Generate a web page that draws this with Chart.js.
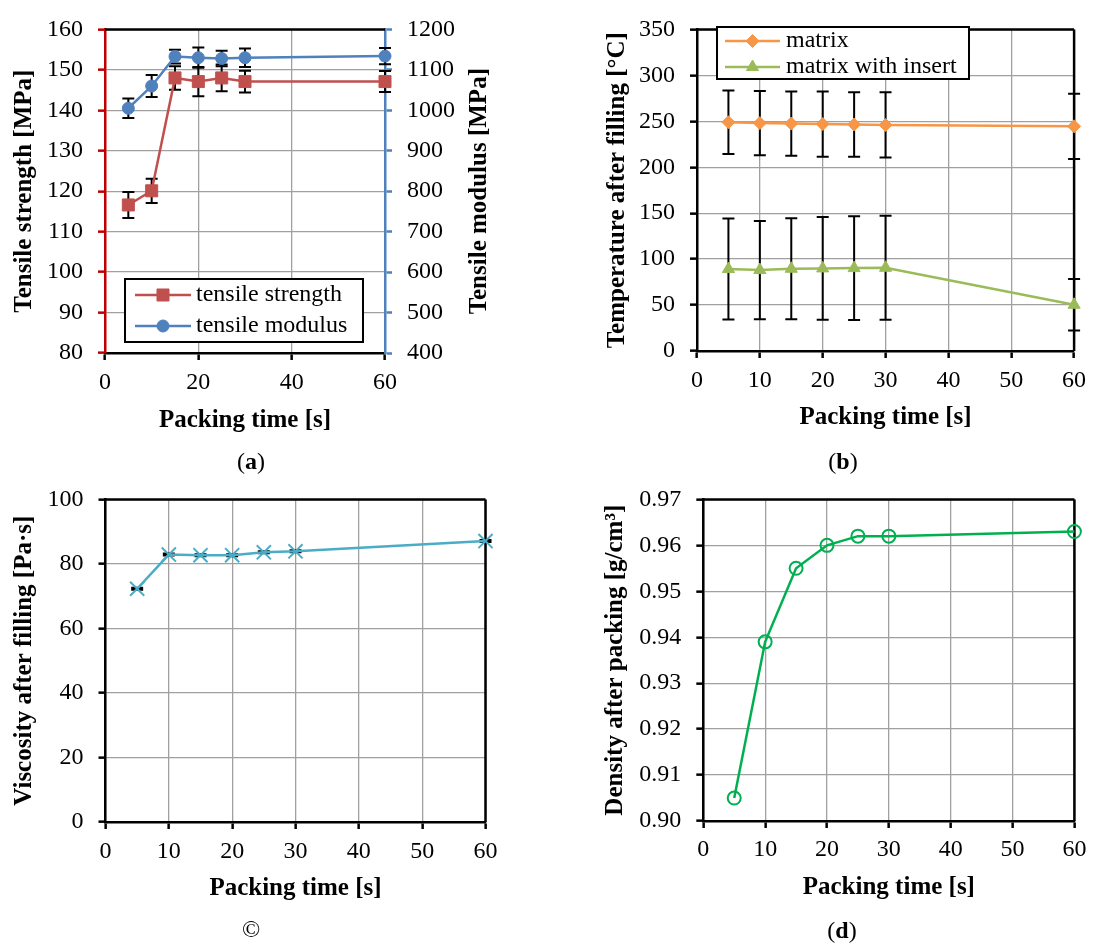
<!DOCTYPE html>
<html>
<head>
<meta charset="utf-8">
<script src="https://cdn.jsdelivr.net/npm/chart.js"></script>
<style>
  body { margin:0; background:#fff; }
  #wrap { position:relative; width:1094px; height:944px; }
  canvas { position:absolute; }
  .cap { position:absolute; transform:translate(-50%,-50%); font:24px 'Liberation Serif','Times New Roman',serif; color:#000; white-space:nowrap; }
</style>
</head>
<body>
<div id="wrap">
  <canvas id="chartA" width="520" height="445" style="left:0;top:0"></canvas>
  <canvas id="chartB" width="554" height="445" style="left:540px;top:0"></canvas>
  <canvas id="chartC" width="540" height="474" style="left:0;top:470px"></canvas>
  <canvas id="chartD" width="554" height="474" style="left:540px;top:470px"></canvas>
  <div class="cap" style="left:251px;top:461px">(<b>a</b>)</div>
  <div class="cap" style="left:843px;top:461px">(<b>b</b>)</div>
  <div class="cap" style="left:251px;top:929px">©</div>
  <div class="cap" style="left:842px;top:930px">(<b>d</b>)</div>
</div>
<script>
/* ---------- data ---------- */
const packingTime = [5, 10, 15, 20, 25, 30, 60];

const tensileStrength    = [116.6, 120.1, 148, 147.1, 148, 147.1, 147.1];
const tensileStrengthErr = [3.2, 3, 2.9, 3.6, 3.3, 2.7, 2.6];
const tensileModulus     = [1005, 1060, 1133, 1130, 1128, 1130, 1134];
const tensileModulusErr  = [24, 27, 17, 25, 19, 23, 20];

const tempMatrix       = [249, 248, 247.5, 247, 246.5, 246, 244.5];
const tempMatrixErr    = [34.5, 35, 35, 35.5, 35, 35.5, 35.5];
const tempInsert       = [89.2, 88.1, 89.5, 89.9, 90.2, 90.6, 50.3];
const tempInsertErr    = [55, 53.5, 55, 56, 56.5, 56.5, 28];

const viscosity    = [72.3, 82.9, 82.7, 82.7, 83.6, 83.9, 87.1];
const viscosityErr = [0.3, 0.3, 0.3, 0.3, 0.3, 0.3, 0.3];

const density = [0.905, 0.939, 0.955, 0.960, 0.962, 0.962, 0.963];

/* ---------- shared styling ---------- */
const FONT = "'Liberation Serif', 'Times New Roman', serif";
const tickFont  = { family: FONT, size: 24 };
const titleFont = { family: FONT, size: 25, weight: 'bold' };
const GRID = '#a0a0a0';

const pts = (vals) => packingTime.map((t, i) => ({ x: t, y: vals[i] }));

// black frame on the sides of the plot area that have no axis
const framePlugin = {
  id: 'frame',
  beforeDatasetsDraw(chart, args, o) {
    const a = chart.chartArea, ctx = chart.ctx;
    ctx.save();
    ctx.strokeStyle = '#000';
    ctx.lineWidth = 2.5;
    ctx.beginPath();
    if (o.top)   { ctx.moveTo(a.left, a.top); ctx.lineTo(a.right, a.top); }
    if (o.right) { ctx.moveTo(a.right, a.top); ctx.lineTo(a.right, a.bottom); }
    ctx.stroke();
    ctx.restore();
  }
};

// vertical error bars with caps, drawn under the markers
const errorBarPlugin = {
  id: 'errorBars',
  beforeDatasetsDraw(chart) {
    const ctx = chart.ctx;
    chart.data.datasets.forEach(ds => {
      if (!ds.errors) return;
      const xs = chart.scales.x, ys = chart.scales[ds.yAxisID || 'y'];
      ctx.save();
      ctx.strokeStyle = '#000';
      ctx.lineWidth = 2;
      ds.data.forEach((p, i) => {
        const e = ds.errors[i];
        const px = xs.getPixelForValue(p.x);
        const top = ys.getPixelForValue(p.y + e), bot = ys.getPixelForValue(p.y - e);
        ctx.beginPath();
        ctx.moveTo(px, top); ctx.lineTo(px, bot);
        ctx.moveTo(px - 6, top); ctx.lineTo(px + 6, top);
        ctx.moveTo(px - 6, bot); ctx.lineTo(px + 6, bot);
        ctx.stroke();
      });
      ctx.restore();
    });
  }
};

// boxed legend sitting inside the plot area, like the spreadsheet original
const boxLegendPlugin = {
  id: 'boxLegend',
  afterDraw(chart, args, o) {
    if (!o.display) return;
    const ctx = chart.ctx;
    ctx.save();
    ctx.fillStyle = '#fff';
    ctx.fillRect(o.left, o.top, o.width, o.height);
    ctx.strokeStyle = '#000';
    ctx.lineWidth = 2;
    ctx.strokeRect(o.left, o.top, o.width, o.height);
    ctx.font = `24px ${FONT}`;
    ctx.textBaseline = 'middle';
    chart.data.datasets.forEach((ds, i) => {
      const y = o.rows[i];
      ctx.strokeStyle = ds.borderColor;
      ctx.lineWidth = ds.borderWidth;
      ctx.beginPath();
      ctx.moveTo(o.lineFrom, y); ctx.lineTo(o.lineTo, y);
      ctx.stroke();
      ctx.fillStyle = ds.pointBackgroundColor;
      ctx.strokeStyle = ds.pointBorderColor;
      ctx.lineWidth = ds.pointBorderWidth;
      Chart.helpers.drawPoint(ctx, { pointStyle: ds.pointStyle, radius: ds.pointRadius, borderWidth: ds.pointBorderWidth, rotation: 0 }, (o.lineFrom + o.lineTo) / 2, y);
      ctx.fillStyle = '#000';
      ctx.fillText(ds.label, o.textX, y);
    });
    ctx.restore();
  }
};

// right-hand axis title reads bottom-to-top in the original
const rightTitlePlugin = {
  id: 'rightTitle',
  afterDraw(chart, args, o) {
    if (!o.text) return;
    const ctx = chart.ctx, a = chart.chartArea;
    ctx.save();
    ctx.translate(o.x, (a.top + a.bottom) / 2);
    ctx.rotate(-Math.PI / 2);
    ctx.font = `bold 25px ${FONT}`;
    ctx.fillStyle = '#000';
    ctx.textAlign = 'center';
    ctx.textBaseline = 'middle';
    ctx.fillText(o.text, 0, 0);
    ctx.restore();
  }
};

function xAxis(step, tickPad, height, titlePad) {
  return {
    type: 'linear', position: 'bottom', min: 0, max: 60,
    ticks: { stepSize: step, font: tickFont, color: '#000', padding: tickPad, maxRotation: 0, autoSkip: false },
    grid: { color: GRID, lineWidth: 1.3, tickLength: 7, tickColor: '#000', tickWidth: 2.5, z: -1 },
    border: { color: '#000', width: 2.5 },
    title: { display: true, text: 'Packing time [s]', font: titleFont, color: '#000', padding: { top: 0, bottom: titlePad } },
    afterFit: s => { s.height = height; }
  };
}

function yAxis(min, max, step, width, title, titlePad, color, extra) {
  return Object.assign({
    type: 'linear', position: 'left', min: min, max: max,
    ticks: { stepSize: step, font: tickFont, color: '#000', padding: 15, autoSkip: false, callback: v => String(v) },
    grid: { color: GRID, lineWidth: 1.3, tickLength: 7, tickColor: color, tickWidth: 2.5, z: -1 },
    border: { color: color, width: 2.5 },
    title: { display: !!title, text: title, font: titleFont, color: '#000', padding: { top: titlePad, bottom: 0 } },
    afterFit: s => { s.width = width; }
  }, extra || {});
}

const basePlugins = (extra) => Object.assign({
  legend: { display: false },
  tooltip: { enabled: false },
  frame: { top: true, right: true },
  boxLegend: { display: false },
  rightTitle: {}
}, extra);

const plugins = [framePlugin, errorBarPlugin, boxLegendPlugin, rightTitlePlugin];

/* ---------- (a) tensile strength / modulus ---------- */
new Chart(document.getElementById('chartA'), {
  type: 'line',
  data: {
    datasets: [{
      label: 'tensile strength',
      data: pts(tensileStrength), errors: tensileStrengthErr, yAxisID: 'y',
      borderColor: '#C0504D', borderWidth: 2.5,
      pointStyle: 'rect', pointRadius: 8.5,
      pointBackgroundColor: '#C0504D', pointBorderColor: '#C0504D', pointBorderWidth: 1,
      clip: false
    }, {
      label: 'tensile modulus',
      data: pts(tensileModulus), errors: tensileModulusErr, yAxisID: 'yR',
      borderColor: '#4F81BD', borderWidth: 2.5,
      pointStyle: 'circle', pointRadius: 6,
      pointBackgroundColor: '#4F81BD', pointBorderColor: '#4F81BD', pointBorderWidth: 1,
      clip: false
    }]
  },
  options: {
    responsive: false, animation: false,
    layout: { padding: { top: 23, right: 0, bottom: 0, left: 0 } },
    scales: {
      x: xAxis(20, 8.6, 92, 9.3),
      y: yAxis(80, 160, 10, 105, 'Tensile strength [MPa]', 10, '#C00000'),
      yR: yAxis(400, 1200, 100, 135, '', 0, '#4F81BD', { position: 'right', grid: { drawOnChartArea: false, tickLength: 7, tickColor: '#4F81BD', tickWidth: 2.5, z: -1 } })
    },
    plugins: basePlugins({
      frame: { top: true, right: false },
      boxLegend: { display: true, left: 125, top: 279, width: 238, height: 63, rows: [295, 326], lineFrom: 135, lineTo: 191, textX: 196 },
      rightTitle: { text: 'Tensile modulus [MPa]', x: 480 }
    })
  },
  plugins: plugins
});

/* ---------- (b) temperature after filling ---------- */
new Chart(document.getElementById('chartB'), {
  type: 'line',
  data: {
    datasets: [{
      label: 'matrix',
      data: pts(tempMatrix), errors: tempMatrixErr,
      borderColor: '#F79646', borderWidth: 2.5,
      pointStyle: 'rectRot', pointRadius: 6.5,
      pointBackgroundColor: '#F79646', pointBorderColor: '#F79646', pointBorderWidth: 1,
      clip: false
    }, {
      label: 'matrix with insert',
      data: pts(tempInsert), errors: tempInsertErr,
      borderColor: '#9BBB59', borderWidth: 2.5,
      pointStyle: 'triangle', pointRadius: 7,
      pointBackgroundColor: '#9BBB59', pointBorderColor: '#9BBB59', pointBorderWidth: 1,
      clip: false
    }]
  },
  options: {
    responsive: false, animation: false,
    layout: { padding: { top: 21, right: 17, bottom: 0, left: 0 } },
    scales: {
      x: xAxis(10, 7.9, 94, 12),
      y: yAxis(0, 350, 50, 157, 'Temperature after filling [°C]', 62.7, '#000')
    },
    plugins: basePlugins({
      boxLegend: { display: true, left: 177, top: 27, width: 252, height: 52, rows: [41, 67], lineFrom: 185, lineTo: 240, textX: 246 }
    })
  },
  plugins: plugins
});

/* ---------- (c) viscosity after filling ---------- */
new Chart(document.getElementById('chartC'), {
  type: 'line',
  data: {
    datasets: [{
      label: 'viscosity',
      data: pts(viscosity), errors: viscosityErr,
      borderColor: '#4BACC6', borderWidth: 2.5,
      pointStyle: 'crossRot', pointRadius: 10,
      pointBackgroundColor: '#4BACC6', pointBorderColor: '#4BACC6', pointBorderWidth: 2,
      clip: false
    }]
  },
  options: {
    responsive: false, animation: false,
    layout: { padding: { top: 22.7, right: 54.5, bottom: 0, left: 0 } },
    scales: {
      x: xAxis(10, 8.6, 122, 40),
      y: yAxis(0, 100, 20, 105.5, 'Viscosity after filling [Pa·s]', 10, '#000')
    },
    plugins: basePlugins({})
  },
  plugins: plugins
});

/* ---------- (d) density after packing ---------- */
new Chart(document.getElementById('chartD'), {
  type: 'line',
  data: {
    datasets: [{
      label: 'density',
      data: pts(density),
      borderColor: '#00B050', borderWidth: 2.5,
      pointStyle: 'circle', pointRadius: 6.5,
      pointBackgroundColor: 'rgba(0,0,0,0)', pointBorderColor: '#00B050', pointBorderWidth: 2,
      clip: false
    }]
  },
  options: {
    responsive: false, animation: false,
    layout: { padding: { top: 22, right: 17, bottom: 0, left: 0 } },
    scales: {
      x: xAxis(10, 7.6, 123, 41),
      y: yAxis(0.90, 0.97, 0.01, 163.3, 'Density after packing [g/cm³]', 61, '#000', {
        ticks: { stepSize: 0.01, font: tickFont, color: '#000', padding: 15, autoSkip: false, callback: v => v.toFixed(2) }
      })
    },
    plugins: basePlugins({})
  },
  plugins: plugins
});
</script>
</body>
</html>
